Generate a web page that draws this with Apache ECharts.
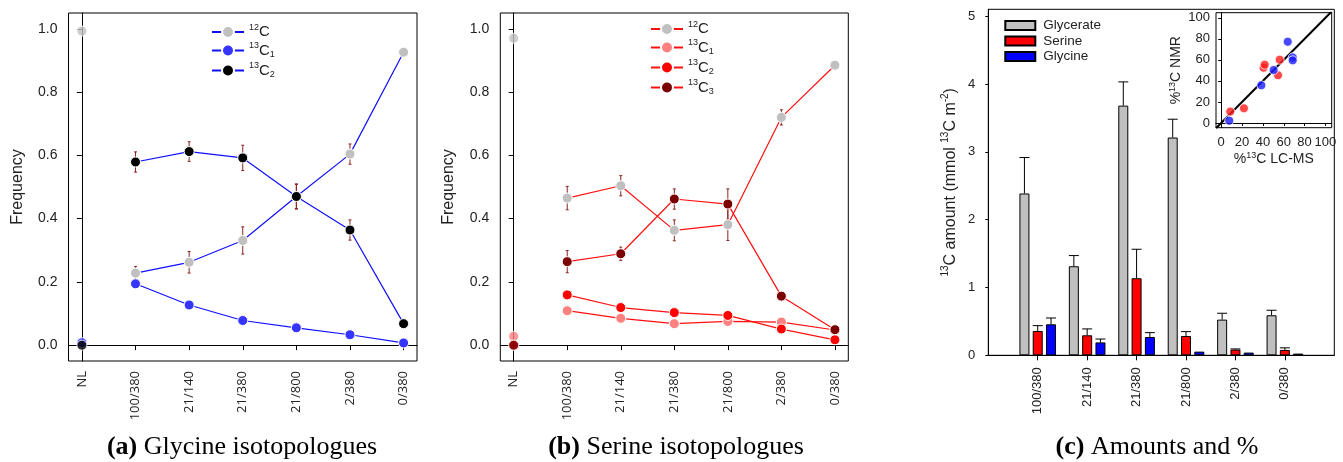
<!DOCTYPE html>
<html>
<head>
<meta charset="utf-8">
<script src="https://cdn.jsdelivr.net/npm/echarts@6/dist/echarts.min.js"></script>
<style>
  html, body { margin: 0; padding: 0; background: #fff; }
  #chart { width: 1343px; height: 462px; }
</style>
</head>
<body>
<div id="chart"></div>
<script>
// treatments (x axis of panels a and b)
const cats = ['NL', '100/380', '21/140', '21/380', '21/800', '2/380', '0/380'];

// (a) glycine isotopologue frequencies
const gly12C = [0.993, 0.228, 0.262, 0.331, 0.470, 0.604, 0.926];
const gly13C1 = [0.008, 0.194, 0.127, 0.078, 0.055, 0.033, 0.007];
const gly13C2 = [0.000, 0.579, 0.612, 0.592, 0.470, 0.364, 0.068];
const gly12CErr = [0, 0.021, 0.034, 0.043, 0.040, 0.032, 0];
const gly13C2Err = [0, 0.032, 0.031, 0.040, 0.038, 0.032, 0];

// (b) serine isotopologue frequencies
const ser12C = [0.970, 0.465, 0.504, 0.363, 0.381, 0.720, 0.885];
const ser13C1 = [0.028, 0.109, 0.085, 0.068, 0.075, 0.073, 0.048];
const ser13C2 = [0.000, 0.159, 0.119, 0.103, 0.094, 0.051, 0.017];
const ser13C3 = [0.000, 0.264, 0.289, 0.462, 0.446, 0.155, 0.049];
const ser12CErr = [0, 0.037, 0.032, 0.033, 0.050, 0.024, 0];
const ser13C3Err = [0, 0.035, 0.021, 0.032, 0.048, 0, 0];

// (c) 13C amounts
const barCats = ['100/380', '21/140', '21/380', '21/800', '2/380', '0/380'];
const glycerateAmt = [2.385, 1.313, 3.68, 3.21, 0.526, 0.59];
const glycerateErr = [0.53, 0.157, 0.35, 0.27, 0.094, 0.074];
const serineAmt = [0.359, 0.295, 1.136, 0.285, 0.084, 0.079];
const serineErr = [0.078, 0.094, 0.427, 0.064, 0.01, 0.031];
const glycineAmt = [0.457, 0.19, 0.27, 0.054, 0.04, 0.025];
const glycineErr = [0.093, 0.05, 0.064, 0, 0, 0];

// inset: %13C LC-MS vs NMR
const insetSerine = [[8.7, 10.8], [21.8, 13.9], [40.7, 52.5], [41.7, 55.4], [54.5, 45.3], [56.1, 60.1]];
const insetGlycine = [[7.7, 2.2], [38.5, 35.8], [50.3, 50.3], [63.8, 77.2], [68.6, 62.3], [68.6, 59.5]];
const identityRange = [-5, 106];

const freqTicks = [0, 0.2, 0.4, 0.6, 0.8, 1.0];
const catTicks = [0, 1, 2, 3, 4, 5, 6];
const pctTicks = [0, 20, 40, 60, 80, 100];

const SANS = 'Liberation Sans';
const chart = echarts.init(document.getElementById('chart'));

const legendNames = {
  gly12C: '{p|12}{m|C}', gly13C1: '{p|13}{m|C}{b|1}', gly13C2: '{p|13}{m|C}{b|2}',
  ser12C: '{p|12}{m|C}', ser13C1: '{p|13}{m|C}{b|1}', ser13C2: '{p|13}{m|C}{b|2}', ser13C3: '{p|13}{m|C}{b|3}'
};
const isoRich = {
  m: { fontSize: 15, fontFamily: SANS, color: '#222', lineHeight: 18 },
  p: { fontSize: 9, fontFamily: SANS, color: '#222', lineHeight: 9, verticalAlign: 'top' },
  b: { fontSize: 9, fontFamily: SANS, color: '#222', lineHeight: 9, verticalAlign: 'bottom' }
};

function freqX(grid) {
  return {
    type: 'value', gridIndex: grid, min: -0.25, max: 6.25,
    axisLine: { show: true, lineStyle: { color: '#000' } },
    axisTick: { show: true, customValues: catTicks, length: 5, lineStyle: { color: '#000' } },
    axisLabel: {
      customValues: catTicks, rotate: 90, margin: 10, fontSize: 13, fontFamily: 'Open Sans', color: '#222',
      formatter: v => cats[Math.round(v)]
    },
    splitLine: { show: false }
  };
}
function freqY(grid, gap) {
  return {
    type: 'value', gridIndex: grid, min: -0.05, max: 1.05,
    name: 'Frequency', nameLocation: 'middle', nameRotate: 90, nameGap: gap,
    nameTextStyle: { fontSize: 16, fontFamily: SANS, color: '#222' },
    axisLine: { show: true, lineStyle: { color: '#000' } },
    axisTick: { show: true, customValues: freqTicks, length: 5, lineStyle: { color: '#000' } },
    axisLabel: { customValues: freqTicks, margin: 11, fontSize: 14, fontFamily: SANS, color: '#222', formatter: v => v.toFixed(1) },
    splitLine: { show: false }
  };
}

function lineSeries(name, vals, grid, lineColor, dotColor) {
  return {
    name: name, type: 'line', xAxisIndex: grid, yAxisIndex: grid,
    data: vals.slice(1).map((v, i) => [i + 1, v]),
    symbol: 'circle', symbolSize: 10, z: 3,
    lineStyle: { color: lineColor, width: 1.2 },
    itemStyle: { color: dotColor, borderColor: '#fff', borderWidth: 1 },
    animation: false
  };
}
function nlSeries(name, vals, grid, dotColor) {
  return {
    name: name + ' NL', type: 'scatter', xAxisIndex: grid, yAxisIndex: grid,
    data: [[0, vals[0]]], symbolSize: 10, z: 3,
    itemStyle: { color: dotColor, borderColor: '#fff', borderWidth: 1 },
    animation: false
  };
}
function errSeries(vals, errs, grid) {
  const data = [];
  vals.forEach((v, i) => { if (errs[i] > 0) data.push([i, v - errs[i], v + errs[i]]); });
  return {
    type: 'custom', xAxisIndex: grid, yAxisIndex: grid, z: 2, data: data, animation: false,
    renderItem: function (params, api) {
      const lo = api.coord([api.value(0), api.value(1)]);
      const hi = api.coord([api.value(0), api.value(2)]);
      const st = { stroke: '#8b2323', lineWidth: 1 };
      return {
        type: 'group', children: [
          { type: 'line', shape: { x1: lo[0], y1: lo[1], x2: hi[0], y2: hi[1] }, style: st },
          { type: 'line', shape: { x1: lo[0] - 1.5, y1: lo[1], x2: lo[0] + 1.5, y2: lo[1] }, style: st },
          { type: 'line', shape: { x1: hi[0] - 1.5, y1: hi[1], x2: hi[0] + 1.5, y2: hi[1] }, style: st }
        ]
      };
    }
  };
}
function barErrSeries(vals, errs, dx) {
  const data = [];
  vals.forEach((v, i) => { if (errs[i] > 0) data.push([i + 1, v, v + errs[i]]); });
  return {
    type: 'custom', xAxisIndex: 2, yAxisIndex: 2, z: 1, data: data, animation: false,
    renderItem: function (params, api) {
      const lo = api.coord([api.value(0), api.value(1)]);
      const hi = api.coord([api.value(0), api.value(2)]);
      const x = lo[0] + dx;
      const st = { stroke: '#000', lineWidth: 1 };
      return {
        type: 'group', children: [
          { type: 'line', shape: { x1: x, y1: lo[1], x2: x, y2: hi[1] }, style: st },
          { type: 'line', shape: { x1: x - 5, y1: hi[1], x2: x + 5, y2: hi[1] }, style: st }
        ]
      };
    }
  };
}
function barSeries(name, vals, color) {
  return {
    name: name, type: 'bar', xAxisIndex: 2, yAxisIndex: 2, z: 2,
    data: ['-'].concat(vals, ['-']),
    barWidth: 10, barGap: '33%',
    itemStyle: { color: color, borderColor: '#000', borderWidth: 1 },
    animation: false
  };
}

const GRAY = '#c0c0c0';
const supRich = { p: { fontSize: 9, fontFamily: SANS, color: '#222', lineHeight: 9, verticalAlign: 'top' } };
const option = {
  backgroundColor: '#fff',
  animation: false,
  grid: [
    { left: 68.5, top: 13, width: 348.5, height: 348, show: true, borderColor: '#000', borderWidth: 1, backgroundColor: 'transparent' },
    { left: 500.3, top: 13, width: 348, height: 348, show: true, borderColor: '#000', borderWidth: 1, backgroundColor: 'transparent' },
    { left: 988.3, top: 9.3, width: 346, height: 346, show: true, borderColor: '#000', borderWidth: 1, backgroundColor: 'transparent' },
    { left: 1216, top: 12.7, width: 115.7, height: 115, show: true, borderColor: '#000', borderWidth: 1, backgroundColor: '#fff' }
  ],
  xAxis: [
    freqX(0), freqX(1),
    {
      type: 'category', gridIndex: 2, boundaryGap: false, data: [''].concat(barCats, ['']),
      axisLine: { show: true, lineStyle: { color: '#000' } },
      axisTick: { show: true, length: 5, interval: (i) => i > 0 && i <= barCats.length, lineStyle: { color: '#000' } },
      axisLabel: { rotate: 90, margin: 12, fontSize: 13, fontFamily: SANS, color: '#222', interval: 0 },
      splitLine: { show: false }
    },
    {
      type: 'value', gridIndex: 3, min: -5, max: 106,
      name: '%{p|13}C LC-MS', nameLocation: 'middle', nameGap: 23,
      nameTextStyle: { fontSize: 14, fontFamily: SANS, color: '#222', lineHeight: 16, rich: supRich },
      axisLine: { show: true, lineStyle: { color: '#000' } },
      axisTick: { show: true, customValues: pctTicks, length: 3, lineStyle: { color: '#000' } },
      axisLabel: { customValues: pctTicks, margin: 8, fontSize: 13, fontFamily: SANS, color: '#222' },
      splitLine: { show: false }
    }
  ],
  yAxis: [
    freqY(0, 43), freqY(1, 44),
    {
      type: 'value', gridIndex: 2, min: 0, max: 5.1,
      name: '{p|13}C amount (mmol {p|13}C m{p|-2})', nameLocation: 'middle', nameRotate: 90, nameGap: 28,
      nameTextStyle: { fontSize: 16, fontFamily: SANS, color: '#222', lineHeight: 20, rich: {
        p: { fontSize: 10, fontFamily: SANS, color: '#222', lineHeight: 10, verticalAlign: 'top' } } },
      axisLine: { show: true, lineStyle: { color: '#000' } },
      axisTick: { show: true, customValues: [0, 1, 2, 3, 4, 5], length: 3, lineStyle: { color: '#000' } },
      axisLabel: { customValues: [0, 1, 2, 3, 4, 5], margin: 13, fontSize: 13, fontFamily: SANS, color: '#222' },
      splitLine: { show: false }
    },
    {
      type: 'value', gridIndex: 3, min: -4.5, max: 104.8,
      name: '%{p|13}C NMR', nameLocation: 'middle', nameRotate: 90, nameGap: 18,
      nameTextStyle: { fontSize: 14, fontFamily: SANS, color: '#222', lineHeight: 16, rich: supRich },
      axisLine: { show: true, lineStyle: { color: '#000' } },
      axisTick: { show: true, customValues: pctTicks, length: 3, lineStyle: { color: '#000' } },
      axisLabel: { customValues: pctTicks, margin: 6, fontSize: 13, fontFamily: SANS, color: '#222' },
      splitLine: { show: false }
    }
  ],
  legend: [
    {
      data: ['gly12C', 'gly13C1', 'gly13C2'], orient: 'vertical', left: 206, top: 18,
      itemWidth: 32, itemHeight: 15, itemGap: 2, selectedMode: false,
      formatter: n => legendNames[n], textStyle: { rich: isoRich }
    },
    {
      data: ['ser12C', 'ser13C1', 'ser13C2', 'ser13C3'], orient: 'vertical', left: 645, top: 15,
      itemWidth: 32, itemHeight: 15, itemGap: 2, selectedMode: false,
      formatter: n => legendNames[n], textStyle: { rich: isoRich }
    },
    {
      data: ['Glycerate', 'Serine', 'Glycine'], orient: 'vertical', left: 999.3, top: 13.5,
      icon: 'rect', itemWidth: 30, itemHeight: 9, itemGap: 1.5, selectedMode: false,
      textStyle: { fontSize: 13.5, fontFamily: SANS, color: '#222', lineHeight: 14, padding: [0, 0, 0, 3] }
    }
  ],
  series: [
    errSeries(gly12C, gly12CErr, 0),
    errSeries(gly13C2, gly13C2Err, 0),
    lineSeries('gly12C', gly12C, 0, '#1010ff', GRAY),
    lineSeries('gly13C1', gly13C1, 0, '#1010ff', '#3535ff'),
    lineSeries('gly13C2', gly13C2, 0, '#1010ff', '#000'),
    nlSeries('gly12C', gly12C, 0, GRAY),
    nlSeries('gly13C1', gly13C1, 0, '#3535ff'),
    nlSeries('gly13C2', gly13C2, 0, '#000'),

    errSeries(ser12C, ser12CErr, 1),
    errSeries(ser13C3, ser13C3Err, 1),
    lineSeries('ser12C', ser12C, 1, '#ff1010', GRAY),
    lineSeries('ser13C1', ser13C1, 1, '#ff1010', '#ff8080'),
    lineSeries('ser13C2', ser13C2, 1, '#ff1010', '#ff0000'),
    lineSeries('ser13C3', ser13C3, 1, '#ff1010', '#7b0000'),
    nlSeries('ser12C', ser12C, 1, GRAY),
    nlSeries('ser13C1', ser13C1, 1, '#ff8080'),
    nlSeries('ser13C2', ser13C2, 1, '#ff0000'),
    nlSeries('ser13C3', ser13C3, 1, '#7b0000'),

    barErrSeries(glycerateAmt, glycerateErr, -13.3),
    barErrSeries(serineAmt, serineErr, 0),
    barErrSeries(glycineAmt, glycineErr, 13.3),
    barSeries('Glycerate', glycerateAmt, GRAY),
    barSeries('Serine', serineAmt, '#ff0000'),
    barSeries('Glycine', glycineAmt, '#0000ff'),

    {
      name: 'identity', type: 'line', xAxisIndex: 3, yAxisIndex: 3, symbol: 'none', z: 2,
      data: identityRange.map(v => [v, v]), lineStyle: { color: '#000', width: 2 }, animation: false
    },
    {
      name: 'Serine %', type: 'scatter', xAxisIndex: 3, yAxisIndex: 3, data: insetSerine, symbolSize: 9, z: 3,
      itemStyle: { color: '#ff1a1a', borderColor: '#fff', borderWidth: 1 }, animation: false
    },
    {
      name: 'Glycine %', type: 'scatter', xAxisIndex: 3, yAxisIndex: 3, data: insetGlycine, symbolSize: 9, z: 3,
      itemStyle: { color: '#1a1aff', borderColor: '#fff', borderWidth: 1 }, animation: false
    }
  ],
  graphic: [
    { type: 'text', x: 242, y: 447, style: { text: '{b|(a)} Glycine isotopologues', fontSize: 26, fontFamily: 'Liberation Serif', fill: '#000', align: 'center', verticalAlign: 'middle',
      rich: { b: { fontSize: 26, fontFamily: 'Liberation Serif', fontWeight: 'bold' } } } },
    { type: 'text', x: 676, y: 447, style: { text: '{b|(b)} Serine isotopologues', fontSize: 26, fontFamily: 'Liberation Serif', fill: '#000', align: 'center', verticalAlign: 'middle',
      rich: { b: { fontSize: 26, fontFamily: 'Liberation Serif', fontWeight: 'bold' } } } },
    { type: 'text', x: 1157, y: 447, style: { text: '{b|(c)} Amounts and %', fontSize: 26, fontFamily: 'Liberation Serif', fill: '#000', align: 'center', verticalAlign: 'middle',
      rich: { b: { fontSize: 26, fontFamily: 'Liberation Serif', fontWeight: 'bold' } } } }
  ]
};
chart.setOption(option);
</script>
</body>
</html>
